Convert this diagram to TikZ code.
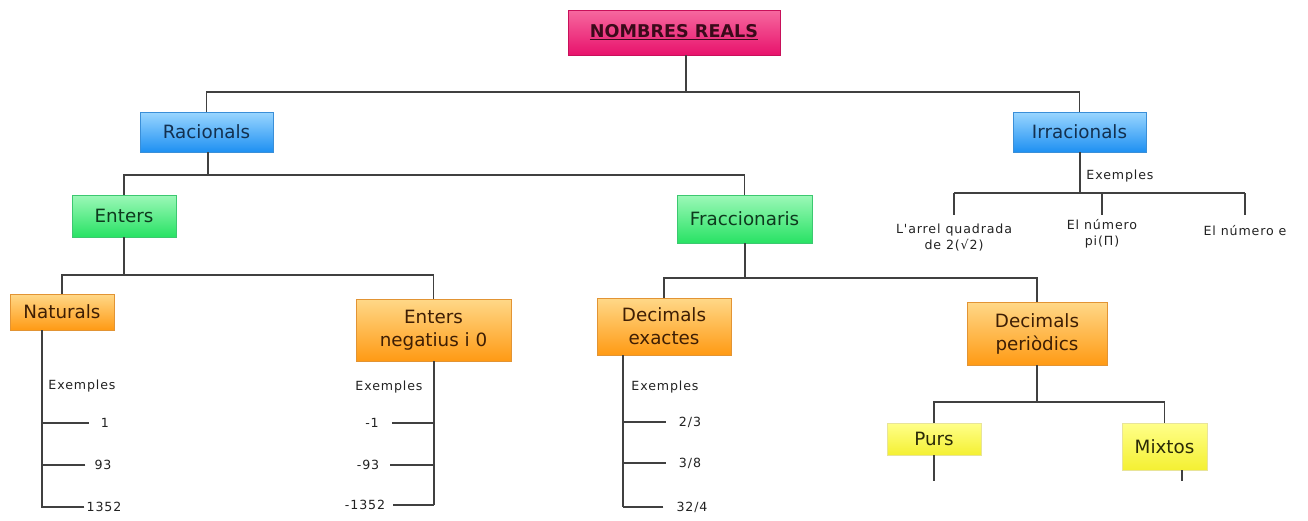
\documentclass[tikz,border=0pt]{standalone}
\usepackage{fontspec}
\setmainfont{DejaVu Sans}
\newfontfamily\smf[LetterSpace=7]{DejaVu Sans}
\begin{document}
\begin{tikzpicture}[x=1pt,y=-1pt,
  box/.style={draw, rectangle, align=center, inner sep=1pt, line width=0.6pt,
    font=\fontsize{18.3}{23}\selectfont},
  pinkbox/.style={box, top color=pink1, bottom color=pink2, draw=pinkd, text=pinkt},
  bluebox/.style={box, top color=blue1, bottom color=blue2, draw=blued, text=bluet},
  greenbox/.style={box, top color=green1, bottom color=green2, draw=greend, text=greent},
  orangebox/.style={box, top color=orange1, bottom color=orange2, draw=oranged, text=oranget},
  yellowbox/.style={box, top color=yellow1, bottom color=yellow2, draw=yellowd, text=yellowt},
  leaf/.style={font=\smf\fontsize{12.6}{16.5}\selectfont, text=leaft, inner sep=0pt, align=center},
  conn/.style={draw=connc, line width=1.2pt}
]
\definecolor{pink1}{HTML}{F6699F}
\definecolor{pink2}{HTML}{E8126C}
\definecolor{pinkd}{HTML}{C8105A}
\definecolor{pinkt}{HTML}{3A0A1A}
\definecolor{blue1}{HTML}{9AD6FF}
\definecolor{blue2}{HTML}{1E90F2}
\definecolor{blued}{HTML}{3A8FD8}
\definecolor{bluet}{HTML}{13304F}
\definecolor{green1}{HTML}{9CF8B8}
\definecolor{green2}{HTML}{28E264}
\definecolor{greend}{HTML}{3CC870}
\definecolor{greent}{HTML}{0E3A1E}
\definecolor{orange1}{HTML}{FFD888}
\definecolor{orange2}{HTML}{FF9A14}
\definecolor{oranged}{HTML}{E29434}
\definecolor{oranget}{HTML}{3E1E04}
\definecolor{yellow1}{HTML}{FFFF8A}
\definecolor{yellow2}{HTML}{F4F032}
\definecolor{yellowd}{HTML}{E8E49A}
\definecolor{yellowt}{HTML}{2A2A08}
\definecolor{leaft}{HTML}{222222}
\definecolor{connc}{HTML}{404040}

\fill[white] (0,0) rectangle (1308,520);
\useasboundingbox (0,0) rectangle (1308,520);

% boxes
\node[pinkbox, minimum width=212pt, minimum height=45pt, font=\fontsize{17.6}{20}\selectfont] (root) at (674,32.5)
  {\textbf{\underline{NOMBRES REALS}}};
\node[bluebox, minimum width=133pt, minimum height=40pt] (rac) at (206.5,132) {Racionals};
\node[bluebox, minimum width=133pt, minimum height=40pt] (irr) at (1079.5,132) {Irracionals};
\node[greenbox, minimum width=104pt, minimum height=42pt] (ent) at (124,216) {Enters};
\node[greenbox, minimum width=135pt, minimum height=48pt] (fra) at (744.5,219) {Fraccionaris};
\node[orangebox, minimum width=104pt, minimum height=36pt] (nat) at (62,312) {Naturals};
\node[orangebox, minimum width=155pt, minimum height=62pt] (neg) at (433.5,330) {Enters\\negatius i 0};
\node[orangebox, minimum width=134pt, minimum height=57pt] (dex) at (664,326.5) {Decimals\\exactes};
\node[orangebox, minimum width=140pt, minimum height=63pt] (dper) at (1037,333.5) {Decimals\\periòdics};
\node[yellowbox, minimum width=94pt, minimum height=32pt] (purs) at (934,439) {Purs};
\node[yellowbox, minimum width=85pt, minimum height=47pt] (mix) at (1164.5,446.5) {Mixtos};

% junction coordinates
\coordinate (rj) at (686,92);
\coordinate (racj) at (208,175);
\coordinate (entj) at (124,275);
\coordinate (fraj) at (745,278);
\coordinate (dperj) at (1037,402);
\coordinate (irrj) at (1080,193);
\coordinate (natv) at (42,508);
\coordinate (negv) at (434,505);
\coordinate (dexv) at (623,507);
\coordinate (pursend) at (934,481);
\coordinate (mixend) at (1182,481);

% tree connectors
\draw[conn] (root.south -| rj) -- (rj);
\draw[conn] (rac.north) -- (rac.north |- rj) -- (irr.north |- rj) -- (irr.north);
\draw[conn] (rac.south -| racj) -- (racj);
\draw[conn] (ent.north) -- (ent.north |- racj) -- (fra.north |- racj) -- (fra.north);
\draw[conn] (ent.south) -- (entj);
\draw[conn] (nat.north) -- (nat.north |- entj) -- (neg.north |- entj) -- (neg.north);
\draw[conn] (fra.south -| fraj) -- (fraj);
\draw[conn] (dex.north) -- (dex.north |- fraj) -- (dper.north |- fraj) -- (dper.north);
\draw[conn] (dper.south) -- (dperj);
\draw[conn] (purs.north) -- (purs.north |- dperj) -- (mix.north |- dperj) -- (mix.north);
\draw[conn] (purs.south) -- (pursend);
\draw[conn] (mix.south -| mixend) -- (mixend);

% Naturals examples
\draw[conn] (nat.south -| natv) -- (natv);
\node[leaf] (natex) at (82,386) {Exemples};
\node[leaf] (n1) at (105,423) {1};
\node[leaf] (n2) at (103,465) {93};
\node[leaf] (n3) at (104,507) {1352};
\draw[conn, shorten <=12pt] (n1.west) -- (n1.west -| natv);
\draw[conn, shorten <=9pt] (n2.west) -- (n2.west -| natv);
\draw[conn, shorten <=2pt] (n3.west) -- (n3.west -| natv);

% Enters negatius examples
\draw[conn] (neg.south -| negv) -- (negv);
\node[leaf] (negex) at (389,387) {Exemples};
\node[leaf] (m1) at (372,423) {-1};
\node[leaf] (m2) at (368,465) {-93};
\node[leaf] (m3) at (365,505) {-1352};
\draw[conn, shorten <=13pt] (m1.east) -- (m1.east -| negv);
\draw[conn, shorten <=11pt] (m2.east) -- (m2.east -| negv);
\draw[conn, shorten <=8pt] (m3.east) -- (m3.east -| negv);

% Decimals exactes examples
\draw[conn] (dex.south -| dexv) -- (dexv);
\node[leaf] (dexex) at (665,387) {Exemples};
\node[leaf] (d1) at (690,422) {2/3};
\node[leaf] (d2) at (690,463) {3/8};
\node[leaf] (d3) at (692,507) {32/4};
\draw[conn, shorten <=13pt] (d1.west) -- (d1.west -| dexv);
\draw[conn, shorten <=13pt] (d2.west) -- (d2.west -| dexv);
\draw[conn, shorten <=13pt] (d3.west) -- (d3.west -| dexv);

% Irracionals examples
\draw[conn] (irr.south -| irrj) -- (irrj);
\node[leaf] (irrex) at (1120,176) {Exemples};
\node[leaf] (i1) at (954,237.5) {L'arrel quadrada\\de 2(√2)};
\node[leaf] (i2) at (1102,234) {El número\\pi(Π)};
\node[leaf] (i3) at (1245,231) {El número e};
\draw[conn] (i1.north |- irrj) -- (i3.north |- irrj);
\draw[conn] (i1.north |- irrj) -- ++(0,22);
\draw[conn] (i2.north |- irrj) -- ++(0,22);
\draw[conn] (i3.north |- irrj) -- ++(0,22);
\end{tikzpicture}
\end{document}
